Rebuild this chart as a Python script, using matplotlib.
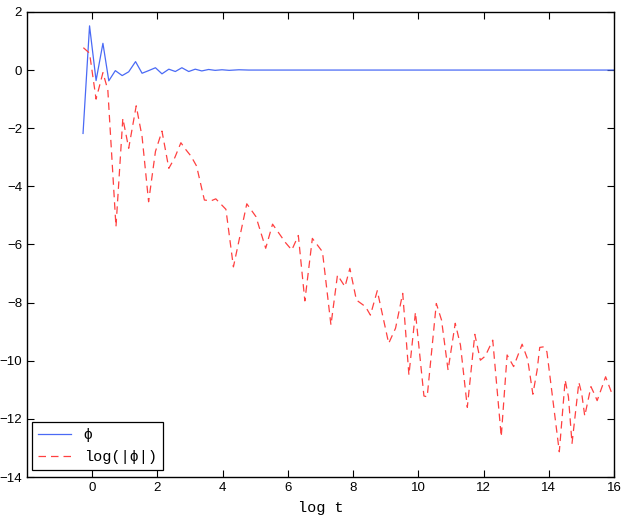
import matplotlib.pyplot as plt
import numpy as np

# valores (vertices de cada curva)
phi_x = [-0.28, -0.08, 0.12, 0.33, 0.51, 0.71, 0.92, 1.12, 1.33, 1.53, 1.73, 1.94,
         2.14, 2.35, 2.55, 2.75, 2.96, 3.16, 3.36, 3.57, 3.77, 3.98, 4.2, 4.5,
         4.8, 5.2, 16.0]
phi_y = [-2.18, 1.52, -0.36, 0.92, -0.37, -0.02, -0.19, -0.06, 0.29, -0.11, -0.02, 0.08,
         -0.13, 0.03, -0.05, 0.08, -0.05, 0.03, -0.03, 0.02, -0.01, 0.01, -0.01, 0.01,
         0.0, 0.0, 0.0]

log_x = [-0.27, -0.08, 0.12, 0.33, 0.48, 0.73, 0.94, 1.12, 1.35, 1.53, 1.73, 1.94,
         2.14, 2.35, 2.53, 2.72, 2.88, 3.03, 3.2, 3.44, 3.64, 3.79, 4.1, 4.33,
         4.74, 5.02, 5.32, 5.53, 5.93, 6.12, 6.32, 6.52, 6.75, 7.06, 7.32, 7.52,
         7.75, 7.9, 8.1, 8.38, 8.53, 8.74, 9.09, 9.3, 9.52, 9.71, 9.91, 10.17,
         10.27, 10.55, 10.71, 10.91, 11.13, 11.29, 11.5, 11.73, 11.9, 12.05, 12.28,
         12.54, 12.72, 12.92, 13.18, 13.35, 13.51, 13.64, 13.72, 13.84, 13.94,
         14.32, 14.5, 14.6, 14.71, 14.92, 15.01, 15.1, 15.29, 15.41, 15.48, 15.74,
         15.93]
log_y = [0.77, 0.58, -1.0, -0.09, -0.68, -5.39, -1.66, -2.69, -1.23, -2.29, -4.53, -2.8,
         -2.1, -3.38, -3.02, -2.5, -2.75, -2.96, -3.3, -4.47, -4.5, -4.43, -4.79, -6.77,
         -4.6, -5.04, -6.13, -5.3, -5.94, -6.19, -5.69, -7.94, -5.79, -6.25, -8.77, -7.05,
         -7.45, -6.82, -7.91, -8.14, -8.43, -7.59, -9.4, -8.88, -7.68, -10.49, -8.33, -11.21,
         -11.24, -8.03, -8.6, -10.32, -8.71, -9.46, -11.6, -9.09, -9.98, -9.84, -9.29,
         -12.61, -9.8, -10.2, -9.43, -9.95, -11.15, -10.32, -9.54, -9.52, -9.69,
         -13.13, -10.66, -11.24, -12.84, -10.74, -11.15, -11.9, -10.89, -11.18, -11.37, -10.55,
         -11.12]

plt.rcParams['font.family'] = ['Liberation Sans', 'DejaVu Sans']

fig = plt.figure(figsize=(6.26, 5.18), dpi=100)
ax = fig.add_axes([0.043, 0.079, 0.938, 0.898])

ax.plot(phi_x, phi_y, color='#4a6af5', linewidth=0.9, label='\u03d5')
ax.plot(log_x, log_y, color='#ff4040', linewidth=0.9, linestyle=(0, (6, 4)),
        label='log(|\u03d5|)')

ax.set_xlim(-2, 16)
ax.set_ylim(-14, 2)
ax.set_xticks(np.arange(0, 17, 2))
ax.set_yticks(np.arange(-14, 3, 2))
ax.tick_params(direction='in', top=True, right=True, length=5, labelsize=9.5)

for s in ax.spines.values():
    s.set_linewidth(1.0)

ax.set_xlabel('log t', family=['Liberation Mono', 'DejaVu Sans Mono'], fontsize=11,
              labelpad=5)

leg = ax.legend(loc='lower left', bbox_to_anchor=(0.008, 0.015), borderaxespad=0,
                fancybox=False, edgecolor='black', framealpha=1, fontsize=11,
                handlelength=2.2)
leg.get_frame().set_linewidth(0.9)
leg.get_texts()[1].set_family(['Liberation Mono', 'DejaVu Sans Mono'])

fig.savefig('out.png', dpi=100)
plt.close(fig)
